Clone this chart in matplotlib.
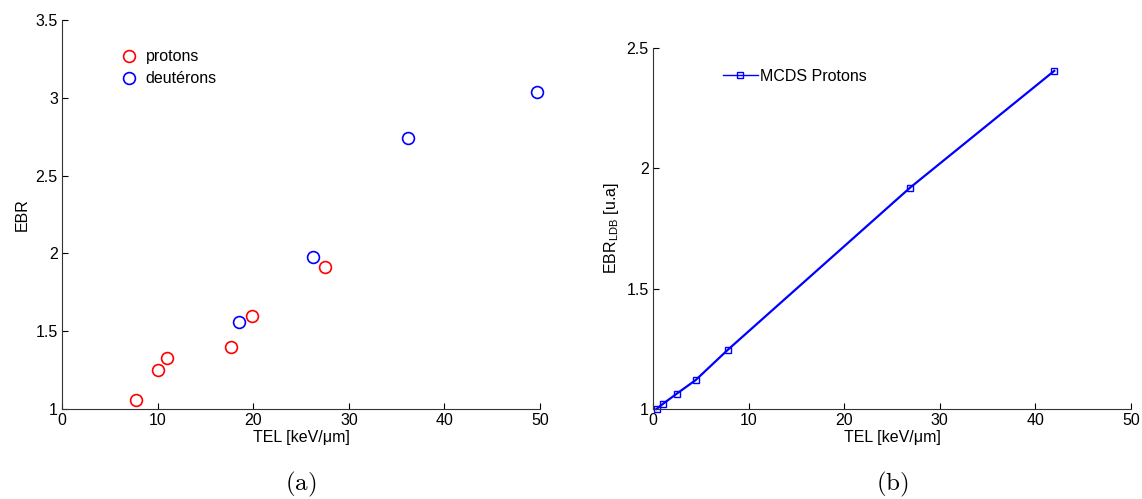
import matplotlib
matplotlib.use("Agg")
import matplotlib.pyplot as plt

plt.rcParams['font.family'] = ['Liberation Sans', 'DejaVu Sans']
plt.rcParams['mathtext.fontset'] = 'custom'
plt.rcParams['mathtext.rm'] = 'Liberation Sans'

# (a) measured RBE
protons_tel = [7.7, 10.0, 11.0, 17.7, 19.9, 27.5]
protons_ebr = [1.06, 1.25, 1.33, 1.40, 1.60, 1.91]
deut_tel = [18.5, 26.2, 36.2, 49.7]
deut_ebr = [1.56, 1.975, 2.74, 3.04]

# (b) MCDS protons
mcds_tel = [0.37, 1.0, 2.5, 4.46, 7.8, 26.9, 41.97]
mcds_ebr = [1.0, 1.02, 1.064, 1.12, 1.245, 1.92, 2.405]

xticks = [0, 10, 20, 30, 40, 50]
fs = 11.5

fig = plt.figure(figsize=(11.42, 4.99), dpi=100)
ax1 = fig.add_axes([0.0543, 0.1804, 0.4186, 0.7796])
ax2 = fig.add_axes([0.5718, 0.1804, 0.4186, 0.7234])

ax1.plot(protons_tel, protons_ebr, 'o', mfc='none', mec='red', ms=8.5, mew=1.2,
         label='protons', clip_on=False)
ax1.plot(deut_tel, deut_ebr, 'o', mfc='none', mec='blue', ms=8.5, mew=1.2,
         label='deutérons', clip_on=False)
ax1.set_xlim(0, 50)
ax1.set_ylim(1, 3.5)
ax1.set_xticks(xticks)
ax1.set_yticks([1, 1.5, 2, 2.5, 3, 3.5])
ax1.set_yticklabels(['1', '1.5', '2', '2.5', '3', '3.5'])
ax1.set_xlabel('TEL [keV/\u03bcm]', fontsize=fs, labelpad=1)
ax1.set_ylabel('EBR', fontsize=fs, labelpad=4)
ax1.legend(loc='upper left', bbox_to_anchor=(0.085, 0.962), frameon=False, fontsize=fs,
           handletextpad=0.3, labelspacing=0.45, handlelength=1.5)

ax2.plot(mcds_tel, mcds_ebr, 's-', color='blue', mfc='none', ms=4, mew=1.0, lw=1.6,
         label='MCDS Protons', clip_on=False)
ax2.set_xlim(0, 50)
ax2.set_ylim(1, 2.5)
ax2.set_xticks(xticks)
ax2.set_yticks([1, 1.5, 2, 2.5])
ax2.set_yticklabels(['1', '1.5', '2', '2.5'])
ax2.set_xlabel('TEL [keV/\u03bcm]', fontsize=fs, labelpad=1)
ax2.set_ylabel('EBR$_{\\mathregular{LDB}}$ [u.a]', fontsize=fs, labelpad=4)
leg = ax2.legend(loc='upper left', bbox_to_anchor=(0.117, 0.982), frameon=False, fontsize=fs,
                 handletextpad=0.15, handlelength=2.15)
for h in leg.get_lines():
    h.set_linewidth(1.0)

for ax in (ax1, ax2):
    ax.spines['top'].set_visible(False)
    ax.spines['right'].set_visible(False)
    ax.spines['left'].set_color('#333333')
    ax.spines['bottom'].set_color('#333333')
    ax.tick_params(direction='in', length=4, labelsize=fs, pad=3)

fig.text(0.2636, 0.018, '$\\mathrm{(a)}$', fontsize=18, ha='center', math_fontfamily='cm')
fig.text(0.7811, 0.018, '$\\mathrm{(b)}$', fontsize=18, ha='center', math_fontfamily='cm')

fig.savefig('out.png', dpi=100)
